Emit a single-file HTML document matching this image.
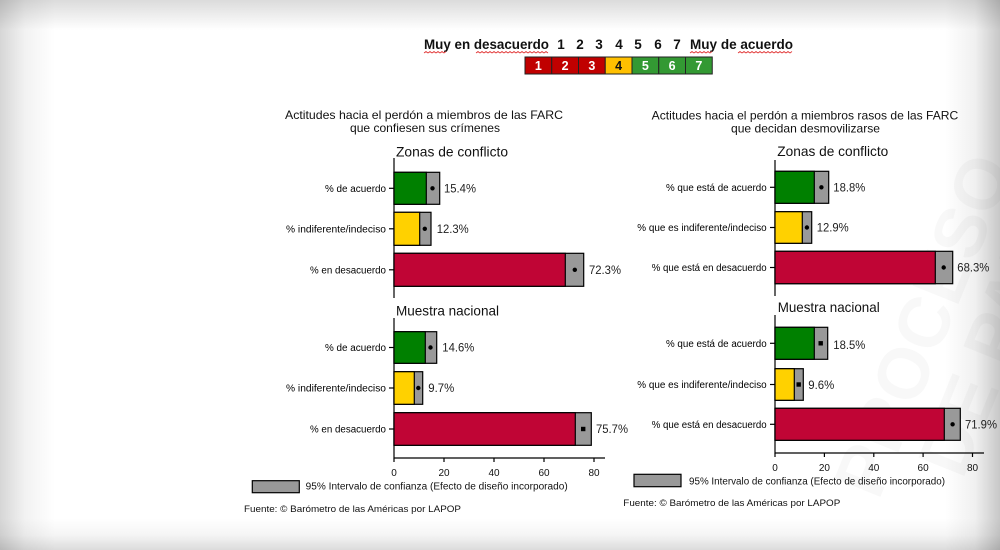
<!DOCTYPE html>
<html>
<head>
<meta charset="utf-8">
<style>
  html,body{margin:0;padding:0;}
  body{
    width:1000px;height:550px;overflow:hidden;position:relative;
    background:
      linear-gradient(to right, rgba(0,0,0,0.16), rgba(0,0,0,0.05) 25px, rgba(0,0,0,0) 55px),
      linear-gradient(to left, rgba(0,0,0,0.22), rgba(0,0,0,0.06) 25px, rgba(0,0,0,0) 55px),
      linear-gradient(to bottom, rgba(0,0,0,0.14), rgba(0,0,0,0) 30px),
      linear-gradient(to top, rgba(0,0,0,0.14), rgba(0,0,0,0.04) 15px, rgba(0,0,0,0) 32px),
      #ffffff;
    font-family:"Liberation Sans", Arial, sans-serif;
  }
  svg{position:absolute;left:0;top:0;}
  text{font-family:"Liberation Sans", Arial, sans-serif;}
</style>
</head>
<body>
<svg width="1000" height="550" viewBox="0 0 1000 550" xmlns="http://www.w3.org/2000/svg">
  <!-- watermark -->
  <g transform="rotate(-68 960 340)" fill="#000" fill-opacity="0.028" font-weight="bold" font-family="Liberation Sans, sans-serif">
    <text x="960" y="325" font-size="72" text-anchor="middle">PROCESO</text>
    <text x="960" y="395" font-size="72" text-anchor="middle">DE PAZ</text>
  </g>

  <!-- header -->
  <g font-weight="bold" font-size="13.5" fill="#111">
    <text x="424" y="49" textLength="125" lengthAdjust="spacingAndGlyphs">Muy en desacuerdo</text>
    <text x="561" y="49" text-anchor="middle">1</text>
    <text x="580" y="49" text-anchor="middle">2</text>
    <text x="599" y="49" text-anchor="middle">3</text>
    <text x="619" y="49" text-anchor="middle">4</text>
    <text x="638" y="49" text-anchor="middle">5</text>
    <text x="658" y="49" text-anchor="middle">6</text>
    <text x="677" y="49" text-anchor="middle">7</text>
    <text x="690" y="49" textLength="103" lengthAdjust="spacingAndGlyphs">Muy de acuerdo</text>
  </g>
  <g stroke="#e03030" stroke-width="0.8" fill="none">
    <polyline points="424,53 426,51.5 428,53 430,51.5 432,53 434,51.5 436,53 438,51.5 440,53 442,51.5 444,53 446,51.5"/>
    <polyline points="476,53 478,51.5 480,53 482,51.5 484,53 486,51.5 488,53 490,51.5 492,53 494,51.5 496,53 498,51.5 500,53 502,51.5 504,53 506,51.5 508,53 510,51.5 512,53 514,51.5 516,53 518,51.5 520,53 522,51.5 524,53 526,51.5 528,53 530,51.5 532,53 534,51.5 536,53 538,51.5 540,53 542,51.5 544,53 546,51.5 548,53"/>
    <polyline points="690,53 692,51.5 694,53 696,51.5 698,53 700,51.5 702,53 704,51.5 706,53 708,51.5 710,53 712,51.5"/>
    <polyline points="738,53 740,51.5 742,53 744,51.5 746,53 748,51.5 750,53 752,51.5 754,53 756,51.5 758,53 760,51.5 762,53 764,51.5 766,53 768,51.5 770,53 772,51.5 774,53 776,51.5 778,53 780,51.5 782,53 784,51.5 786,53 788,51.5 790,53 792,51.5"/>
  </g>
  <g stroke="#222" stroke-width="1">
    <rect x="525" y="57" width="26.75" height="17" fill="#c00000"/>
    <rect x="551.75" y="57" width="26.75" height="17" fill="#c00000"/>
    <rect x="578.5" y="57" width="26.75" height="17" fill="#c00000"/>
    <rect x="605.25" y="57" width="26.75" height="17" fill="#ffc000"/>
    <rect x="632" y="57" width="26.75" height="17" fill="#339933"/>
    <rect x="658.75" y="57" width="26.75" height="17" fill="#339933"/>
    <rect x="685.5" y="57" width="26.75" height="17" fill="#339933"/>
  </g>
  <g font-weight="bold" font-size="12.5" text-anchor="middle" fill="#fff">
    <text x="538.4" y="70">1</text>
    <text x="565.1" y="70">2</text>
    <text x="591.9" y="70">3</text>
    <text x="618.6" y="70" fill="#111">4</text>
    <text x="645.4" y="70">5</text>
    <text x="672.1" y="70">6</text>
    <text x="698.9" y="70">7</text>
  </g>

  <!-- ============ LEFT CHART ============ -->
  <g fill="#111" font-size="12" text-anchor="middle">
    <text x="424" y="119" textLength="278" lengthAdjust="spacingAndGlyphs">Actitudes hacia el perdón a miembros de las FARC</text>
    <text x="425" y="132" textLength="150" lengthAdjust="spacingAndGlyphs">que confiesen sus crímenes</text>
  </g>
  <g fill="#111" font-size="14">
    <text x="396" y="156.5" textLength="112" lengthAdjust="spacingAndGlyphs">Zonas de conflicto</text>
    <text x="396" y="315.5" textLength="103" lengthAdjust="spacingAndGlyphs">Muestra nacional</text>
  </g>
  <!-- axes -->
  <g stroke="#000" stroke-width="1.2" fill="none">
    <line x1="394" y1="158" x2="394" y2="298"/>
    <line x1="394" y1="318" x2="394" y2="458.5"/>
    <line x1="394" y1="458" x2="605" y2="458"/>
    <line x1="394" y1="458" x2="394" y2="462"/>
    <line x1="444" y1="458" x2="444" y2="462"/>
    <line x1="494" y1="458" x2="494" y2="462"/>
    <line x1="544" y1="458" x2="544" y2="462"/>
    <line x1="594" y1="458" x2="594" y2="462"/>
    <line x1="389" y1="188.3" x2="394" y2="188.3"/>
    <line x1="389" y1="228.8" x2="394" y2="228.8"/>
    <line x1="389" y1="269.8" x2="394" y2="269.8"/>
    <line x1="389" y1="347.5" x2="394" y2="347.5"/>
    <line x1="389" y1="388" x2="394" y2="388"/>
    <line x1="389" y1="429" x2="394" y2="429"/>
  </g>
  <g fill="#111" font-size="10" text-anchor="middle">
    <text x="394" y="476">0</text>
    <text x="444" y="476">20</text>
    <text x="494" y="476">40</text>
    <text x="544" y="476">60</text>
    <text x="594" y="476">80</text>
  </g>
  <g fill="#000" font-size="10" text-anchor="end">
    <text x="386" y="191.8" textLength="61" lengthAdjust="spacingAndGlyphs">% de acuerdo</text>
    <text x="386" y="232.3" textLength="100" lengthAdjust="spacingAndGlyphs">% indiferente/indeciso</text>
    <text x="386" y="273.3" textLength="76" lengthAdjust="spacingAndGlyphs">% en desacuerdo</text>
    <text x="386" y="351" textLength="61" lengthAdjust="spacingAndGlyphs">% de acuerdo</text>
    <text x="386" y="391.5" textLength="100" lengthAdjust="spacingAndGlyphs">% indiferente/indeciso</text>
    <text x="386" y="432.5" textLength="76" lengthAdjust="spacingAndGlyphs">% en desacuerdo</text>
  </g>
  <!-- bars left top -->
  <g stroke="#000" stroke-width="1.2">
    <rect x="394" y="172.3" width="45.7" height="32" fill="#999"/>
    <rect x="394" y="172.3" width="32.3" height="32" fill="#008000"/>
    <rect x="394" y="212.3" width="37" height="33" fill="#999"/>
    <rect x="394" y="212.3" width="25.7" height="33" fill="#ffd100"/>
    <rect x="394" y="253.3" width="189.7" height="33" fill="#999"/>
    <rect x="394" y="253.3" width="171.3" height="33" fill="#c00535"/>
    <!-- bottom -->
    <rect x="394" y="331.7" width="42.7" height="31.6" fill="#999"/>
    <rect x="394" y="331.7" width="31.3" height="31.6" fill="#008000"/>
    <rect x="394" y="371.7" width="28.7" height="32.6" fill="#999"/>
    <rect x="394" y="371.7" width="20.3" height="32.6" fill="#ffd100"/>
    <rect x="394" y="412.7" width="197.3" height="32.6" fill="#999"/>
    <rect x="394" y="412.7" width="181.3" height="32.6" fill="#c00535"/>
  </g>
  <g fill="#000">
    <circle cx="432.5" cy="188.3" r="2.2"/>
    <circle cx="424.8" cy="228.8" r="2.2"/>
    <circle cx="574.8" cy="269.8" r="2.2"/>
    <circle cx="430.5" cy="347.5" r="2.2"/>
    <circle cx="418.3" cy="388" r="2.2"/>
    <rect x="581" y="426.8" width="4.4" height="4.4"/>
  </g>
  <g fill="#222" font-size="12">
    <text x="444" y="192.5" textLength="32" lengthAdjust="spacingAndGlyphs">15.4%</text>
    <text x="436.7" y="233" textLength="32" lengthAdjust="spacingAndGlyphs">12.3%</text>
    <text x="589" y="274" textLength="32" lengthAdjust="spacingAndGlyphs">72.3%</text>
    <text x="442.3" y="351.7" textLength="32" lengthAdjust="spacingAndGlyphs">14.6%</text>
    <text x="428.3" y="392.2" textLength="26" lengthAdjust="spacingAndGlyphs">9.7%</text>
    <text x="596" y="433.2" textLength="32" lengthAdjust="spacingAndGlyphs">75.7%</text>
  </g>
  <!-- legend left -->
  <rect x="252.3" y="480.7" width="47" height="12" fill="#999" stroke="#000" stroke-width="1.2"/>
  <text x="305.7" y="489.5" font-size="10" fill="#111" textLength="262" lengthAdjust="spacingAndGlyphs">95% Intervalo de confianza (Efecto de diseño incorporado)</text>
  <text x="244" y="511.8" font-size="9.5" fill="#111" textLength="217" lengthAdjust="spacingAndGlyphs">Fuente: © Barómetro de las Américas por LAPOP</text>

  <!-- ============ RIGHT CHART ============ -->
  <g fill="#111" font-size="12" text-anchor="middle">
    <text x="805" y="119.7" textLength="306.6" lengthAdjust="spacingAndGlyphs">Actitudes hacia el perdón a miembros rasos de las FARC</text>
    <text x="805.5" y="132.3" textLength="149" lengthAdjust="spacingAndGlyphs">que decidan desmovilizarse</text>
  </g>
  <g fill="#111" font-size="14">
    <text x="777.3" y="156" textLength="111" lengthAdjust="spacingAndGlyphs">Zonas de conflicto</text>
    <text x="777.7" y="312.2" textLength="102" lengthAdjust="spacingAndGlyphs">Muestra nacional</text>
  </g>
  <g stroke="#000" stroke-width="1.2" fill="none">
    <line x1="775" y1="160" x2="775" y2="296"/>
    <line x1="775" y1="315" x2="775" y2="453.5"/>
    <line x1="775" y1="453" x2="984" y2="453"/>
    <line x1="775" y1="453" x2="775" y2="457"/>
    <line x1="824.4" y1="453" x2="824.4" y2="457"/>
    <line x1="873.8" y1="453" x2="873.8" y2="457"/>
    <line x1="923.1" y1="453" x2="923.1" y2="457"/>
    <line x1="972.5" y1="453" x2="972.5" y2="457"/>
    <line x1="770" y1="187.3" x2="775" y2="187.3"/>
    <line x1="770" y1="227.5" x2="775" y2="227.5"/>
    <line x1="770" y1="267.5" x2="775" y2="267.5"/>
    <line x1="770" y1="343.3" x2="775" y2="343.3"/>
    <line x1="770" y1="384.5" x2="775" y2="384.5"/>
    <line x1="770" y1="424.3" x2="775" y2="424.3"/>
  </g>
  <g fill="#111" font-size="10" text-anchor="middle">
    <text x="775" y="471">0</text>
    <text x="824.4" y="471">20</text>
    <text x="873.8" y="471">40</text>
    <text x="923.1" y="471">60</text>
    <text x="972.5" y="471">80</text>
  </g>
  <g fill="#000" font-size="10" text-anchor="end">
    <text x="766.7" y="190.8" textLength="100.7" lengthAdjust="spacingAndGlyphs">% que está de acuerdo</text>
    <text x="766.7" y="231" textLength="129.4" lengthAdjust="spacingAndGlyphs">% que es indiferente/indeciso</text>
    <text x="766.7" y="271" textLength="115" lengthAdjust="spacingAndGlyphs">% que está en desacuerdo</text>
    <text x="766.7" y="346.8" textLength="100.7" lengthAdjust="spacingAndGlyphs">% que está de acuerdo</text>
    <text x="766.7" y="388" textLength="129.4" lengthAdjust="spacingAndGlyphs">% que es indiferente/indeciso</text>
    <text x="766.7" y="427.8" textLength="115" lengthAdjust="spacingAndGlyphs">% que está en desacuerdo</text>
  </g>
  <g stroke="#000" stroke-width="1.2">
    <rect x="775" y="171.3" width="53.7" height="32" fill="#999"/>
    <rect x="775" y="171.3" width="39.3" height="32" fill="#008000"/>
    <rect x="775" y="211.7" width="36.7" height="31.6" fill="#999"/>
    <rect x="775" y="211.7" width="27.3" height="31.6" fill="#ffd100"/>
    <rect x="775" y="251.3" width="177.7" height="32.4" fill="#999"/>
    <rect x="775" y="251.3" width="160.3" height="32.4" fill="#c00535"/>
    <rect x="775" y="327.3" width="52.7" height="32" fill="#999"/>
    <rect x="775" y="327.3" width="39.3" height="32" fill="#008000"/>
    <rect x="775" y="368.7" width="28.3" height="31.6" fill="#999"/>
    <rect x="775" y="368.7" width="19.3" height="31.6" fill="#ffd100"/>
    <rect x="775" y="408.3" width="185.3" height="32" fill="#999"/>
    <rect x="775" y="408.3" width="169.3" height="32" fill="#c00535"/>
  </g>
  <g fill="#000">
    <circle cx="821.4" cy="187.3" r="2.2"/>
    <circle cx="806.9" cy="227.5" r="2.2"/>
    <circle cx="943.7" cy="267.5" r="2.2"/>
    <rect x="818.5" y="341.1" width="4.4" height="4.4"/>
    <rect x="796.5" y="382.3" width="4.4" height="4.4"/>
    <circle cx="952.6" cy="424.3" r="2.2"/>
  </g>
  <g fill="#222" font-size="12">
    <text x="833.3" y="191.5" textLength="32" lengthAdjust="spacingAndGlyphs">18.8%</text>
    <text x="816.7" y="231.7" textLength="32" lengthAdjust="spacingAndGlyphs">12.9%</text>
    <text x="957.3" y="271.7" textLength="32" lengthAdjust="spacingAndGlyphs">68.3%</text>
    <text x="833.3" y="349.2" textLength="32" lengthAdjust="spacingAndGlyphs">18.5%</text>
    <text x="808.3" y="389.2" textLength="26" lengthAdjust="spacingAndGlyphs">9.6%</text>
    <text x="965" y="428.5" textLength="32" lengthAdjust="spacingAndGlyphs">71.9%</text>
  </g>
  <rect x="634" y="474.3" width="47" height="12.4" fill="#999" stroke="#000" stroke-width="1.2"/>
  <text x="689" y="484.5" font-size="10" fill="#111" textLength="256" lengthAdjust="spacingAndGlyphs">95% Intervalo de confianza (Efecto de diseño incorporado)</text>
  <text x="623.3" y="505.8" font-size="9.5" fill="#111" textLength="217" lengthAdjust="spacingAndGlyphs">Fuente: © Barómetro de las Américas por LAPOP</text>
</svg>
</body>
</html>
